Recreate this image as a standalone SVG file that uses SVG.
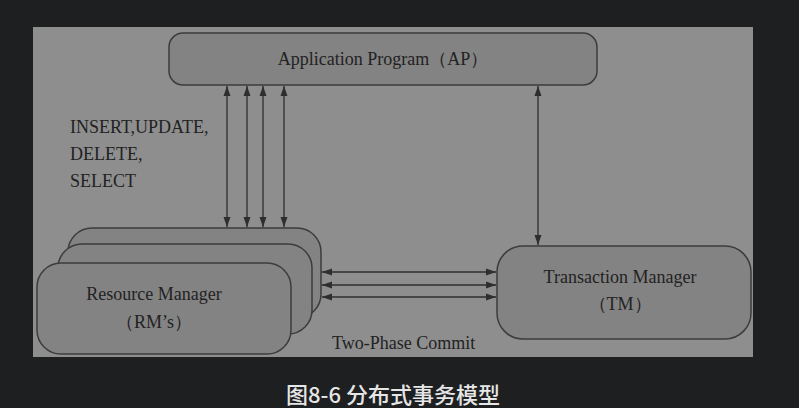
<svg xmlns="http://www.w3.org/2000/svg" width="799" height="408" viewBox="0 0 799 408">
<style>
.box{fill:#838383;stroke:#3c3c3c;stroke-width:1.5}
.t{font-family:"Liberation Serif","Times New Roman",serif;font-size:18px;fill:#222}
.c{stroke:#2e2e2e;stroke-width:1.3;fill:none;marker-start:url(#ah);marker-end:url(#ah)}
.cap{font-family:"Noto Sans CJK SC","Noto Sans",sans-serif;font-size:22px;font-weight:500;fill:#e6e6e6}
</style>
<defs>
<marker id="ah" viewBox="0 0 10 10" refX="10" refY="5" markerWidth="10" markerHeight="10" markerUnits="userSpaceOnUse" orient="auto-start-reverse">
<path d="M0,1.5 L10,5 L0,8.5 Z" fill="#2e2e2e"/>
</marker>
</defs>
<rect width="799" height="408" fill="#1e1f21"/>
<rect x="33" y="27" width="720" height="330" fill="#8e8e8e"/>
<g id="ap">
<rect class="box" x="169" y="33" width="428" height="52" rx="14"/>
<text class="t" x="383" y="65" text-anchor="middle" font-size="17.5">Application Program（AP）</text>
</g>
<g id="rm">
<rect class="box" x="68" y="228" width="253" height="90" rx="24"/>
<rect class="box" x="58" y="244" width="254" height="90" rx="24"/>
<rect class="box" x="37" y="263" width="254" height="91" rx="24"/>
<text class="t" x="154" y="300" text-anchor="middle">Resource Manager</text>
<text class="t" x="154" y="328" text-anchor="middle">（RM’s）</text>
</g>
<g id="tm">
<rect class="box" x="497" y="246" width="254" height="93" rx="26"/>
<text class="t" x="620" y="283" text-anchor="middle">Transaction Manager</text>
<text class="t" x="620" y="310" text-anchor="middle">（TM）</text>
</g>
<g id="labels">
<text class="t" x="70" y="133">INSERT,UPDATE,</text>
<text class="t" x="70" y="160">DELETE,</text>
<text class="t" x="70" y="187">SELECT</text>
<text class="t" x="332" y="349">Two-Phase Commit</text>
</g>
<g id="connectors">
<line class="c" x1="227" y1="227" x2="227" y2="86"/>
<line class="c" x1="247" y1="227" x2="247" y2="86"/>
<line class="c" x1="263" y1="227" x2="263" y2="86"/>
<line class="c" x1="284" y1="227" x2="284" y2="86"/>
<line class="c" x1="538" y1="245" x2="538" y2="86"/>
<line class="c" x1="322" y1="272" x2="496" y2="272"/>
<line class="c" x1="322" y1="285" x2="496" y2="285"/>
<line class="c" x1="322" y1="297" x2="496" y2="297"/>
</g>
<text class="cap" x="393" y="403" text-anchor="middle">图8-6 分布式事务模型</text>
</svg>
